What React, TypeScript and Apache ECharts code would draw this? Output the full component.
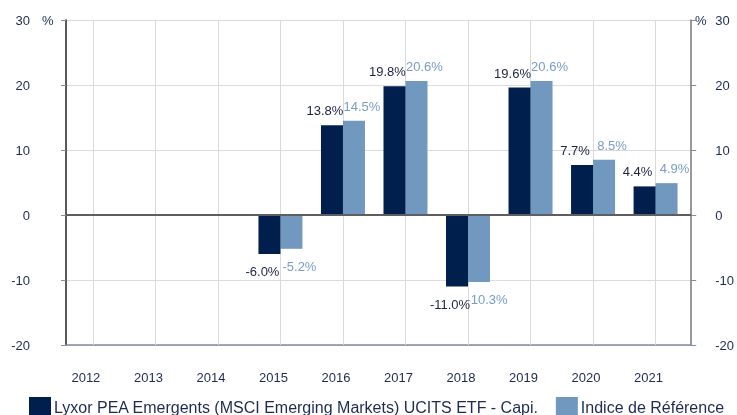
import React, { useEffect, useRef } from "react";
import * as echarts from "echarts";

const years = [2012, 2013, 2014, 2015, 2016, 2017, 2018, 2019, 2020, 2021];
const etfValues: (number | null)[] = [null, null, null, -6.0, 13.8, 19.8, -11.0, 19.6, 7.7, 4.4];
const indexValues: (number | null)[] = [null, null, null, -5.2, 14.5, 20.6, -10.3, 20.6, 8.5, 4.9];
const seriesNames = ["Lyxor PEA Emergents (MSCI Emerging Markets) UCITS ETF - Capi.", "Indice de Référence"];
const yTicks = { min: -20, max: 30, interval: 10 };

const FONT = "'Liberation Sans', Arial, sans-serif";
const NAVY = "#1c2b4f";
const DARK = "#001f4c";
const LIGHT = "#7199c0";

function buildData(vals: (number | null)[], labelColor: string, offsetX: number) {
  return years
    .map((y, i) => ({ y, v: vals[i] }))
    .filter((d) => d.v !== null)
    .map((d) => ({
      value: [d.y, d.v as number],
      label: {
        show: true,
        position: (d.v as number) >= 0 ? "top" : "bottom",
        distance: (d.v as number) >= 0 ? 8 : 11,
        offset: [offsetX, 0],
        color: labelColor,
        fontSize: 13,
        fontFamily: FONT,
        formatter: () => (d.v as number).toFixed(1) + "%",
      },
    }));
}

export default function App() {
  const ref = useRef<HTMLDivElement>(null);
  useEffect(() => {
    if (!ref.current) return;
    const chart = echarts.init(ref.current, null, { renderer: "svg" });
    const yAxisCommon = {
      type: "value",
      min: yTicks.min,
      max: yTicks.max,
      interval: yTicks.interval,
      axisTick: { show: true, length: 5, lineStyle: { color: "#7890b0" } },
      axisLabel: { color: NAVY, fontSize: 13, fontFamily: FONT },
    };
    chart.setOption({
      animation: false,
      textStyle: { fontFamily: FONT },
      grid: { left: 66, right: 44, top: 20, bottom: 70, containLabel: false },
      legend: {
        left: 29,
        top: 397,
        width: 760,
        itemWidth: 22,
        itemHeight: 20,
        itemGap: 17,
        padding: 0,
        icon: "rect",
        textStyle: { fontSize: 16, color: NAVY, fontFamily: FONT, padding: [2, 0, 0, -2] },
        data: seriesNames,
      },
      xAxis: {
        type: "value",
        min: 2011.57,
        max: 2021.57,
        splitLine: { show: false },
        axisTick: { show: false },
        axisLine: { show: true, onZero: false, lineStyle: { color: "#7d8ca3", width: 1.5 } },
        axisLabel: {
          customValues: years,
          formatter: (v: number) => String(Math.round(v)),
          color: NAVY,
          fontSize: 13,
          fontFamily: FONT,
          margin: 26,
          padding: [0, 14, 0, 0],
        },
      },
      yAxis: [
        {
          ...yAxisCommon,
          position: "left",
          axisLine: { show: true, lineStyle: { color: "#222", width: 1.5 } },
          axisLabel: { ...yAxisCommon.axisLabel, margin: 36 },
          splitLine: { show: true, lineStyle: { color: "#dcdcdc", width: 1 } },
        },
        {
          ...yAxisCommon,
          position: "right",
          axisLine: { show: true, lineStyle: { color: "#777", width: 1.5 } },
          axisLabel: { ...yAxisCommon.axisLabel, margin: 24 },
          splitLine: { show: false },
        },
      ],
      graphic: [
        { type: "text", left: 42, top: 14, style: { text: "%", fontSize: 13, fill: NAVY, fontFamily: FONT } },
        { type: "text", left: 695, top: 14, style: { text: "%", fontSize: 13, fill: NAVY, fontFamily: FONT } },
      ],
      series: [
        {
          type: "line",
          name: "grid",
          data: [],
          z: 1,
          silent: true,
          markLine: {
            silent: true,
            z: 1,
            symbol: "none",
            label: { show: false },
            lineStyle: { color: "#d9d9d9", width: 1, type: "solid" },
            data: years.map((y) => ({ xAxis: y })),
          },
        },
        {
          type: "bar",
          name: seriesNames[0],
          data: buildData(etfValues, "#1a2440", -7),
          barWidth: 22,
          barGap: "0%",
          itemStyle: { color: DARK },
          z: 3,
          markLine: {
            silent: true,
            z: 4,
            symbol: "none",
            label: { show: false },
            lineStyle: { color: "#5e5e5e", width: 2, type: "solid" },
            data: [{ yAxis: 0 }],
          },
        },
        {
          type: "bar",
          name: seriesNames[1],
          data: buildData(indexValues, "#7a9cc6", 8),
          barWidth: 22,
          barGap: "0%",
          itemStyle: { color: LIGHT },
          z: 2,
        },
      ],
    });
    return () => chart.dispose();
  }, []);
  return <div ref={ref} style={{ position: "fixed", left: 0, top: 0, width: 737, height: 415 }} />;
}
